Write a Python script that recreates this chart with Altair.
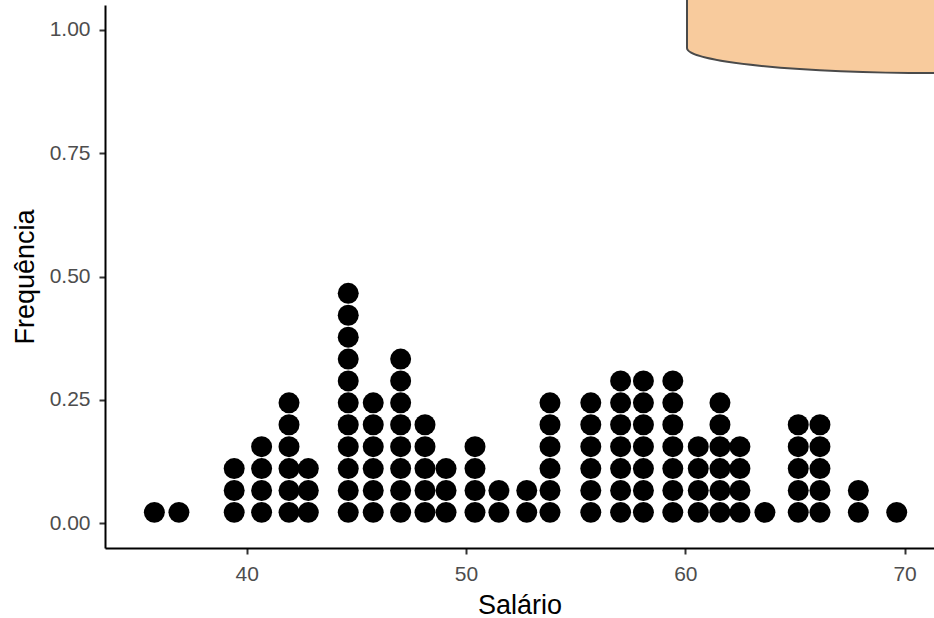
import altair as alt
import pandas as pd

# Dot-plot columns: salary position of each stack and number of dots in it
salario = [35.79, 36.91, 39.43, 40.68, 41.93, 42.81, 44.63, 45.77, 47.02,
           48.13, 49.09, 50.41, 51.50, 52.77, 53.83, 55.69, 57.05, 58.09,
           59.43, 60.59, 61.58, 62.49, 63.63, 65.15, 66.14, 67.89, 69.64]
contagem = [1, 1, 3, 4, 6, 3, 11, 6, 8,
            5, 3, 4, 2, 2, 6, 6, 7, 7,
            7, 4, 6, 4, 1, 5, 5, 2, 1]

x_ticks = [40, 50, 60, 70]
y_ticks = [0.0, 0.25, 0.50, 0.75, 1.00]

# one row per dot
rows = []
for s, c in zip(salario, contagem):
    rows.extend({"Salario": s} for _ in range(c))
dots = pd.DataFrame(rows)

DOT_STEP = 0.04437  # stacked-dot spacing in y units
FONT = "Liberation Sans"

x_axis = alt.Axis(
    values=x_ticks, title="Salário", grid=False,
    labelFont=FONT, labelFontSize=21, labelColor="#4D4D4D", labelPadding=9.5,
    tickSize=6, tickWidth=2, tickColor="#333333",
    domainColor="#000000", domainWidth=2,
    titleFont=FONT, titleFontSize=27, titleFontWeight="normal", titleColor="#000000",
    titleY=65, titleBaseline="alphabetic",
)
y_axis = alt.Axis(
    values=y_ticks, format=".2f", title="Frequência", grid=False,
    labelFont=FONT, labelFontSize=21, labelColor="#4D4D4D", labelPadding=9,
    tickSize=6, tickWidth=2, tickColor="#333333",
    domainColor="#000000", domainWidth=2,
    titleFont=FONT, titleFontSize=27, titleFontWeight="normal", titleColor="#000000",
    titleX=-72, titleBaseline="alphabetic",
)

points = alt.Chart(dots).transform_window(
    pos="row_number()", groupby=["Salario"]
).transform_calculate(
    Frequencia=f"(datum.pos - 0.5) * {DOT_STEP}"
).mark_circle(size=440, color="#000000", opacity=1).encode(
    x=alt.X("Salario:Q", scale=alt.Scale(domain=[33.539, 71.34], nice=False, zero=False), axis=x_axis),
    y=alt.Y("Frequencia:Q", scale=alt.Scale(domain=[-0.05, 1.05], nice=False, zero=False), axis=y_axis),
)

# cylinder-shaped callout at the top right
callout_path = "M -247 -80 L -247 48 C -247 61.8 -136.3 73 0 73 C 136.3 73 247 61.8 247 48 L 247 -80 Z"
callout = alt.Chart(pd.DataFrame({"k": [0]})).mark_point(
    shape=callout_path, size=4, filled=True, fill="#F8CB9D", fillOpacity=1,
    stroke="#4A4A4A", strokeWidth=2, opacity=1,
).encode(x=alt.value(829), y=alt.value(-5))

chart = alt.layer(points, callout).properties(
    width=829, height=543,
    background="white",
    autosize=alt.AutoSizeParams(type="none"),
    padding={"left": 105, "top": 5, "right": 0, "bottom": 70},
).configure_view(strokeWidth=0, strokeOpacity=0)

chart.save("out.html", embed_options={"renderer": "svg", "actions": False})
